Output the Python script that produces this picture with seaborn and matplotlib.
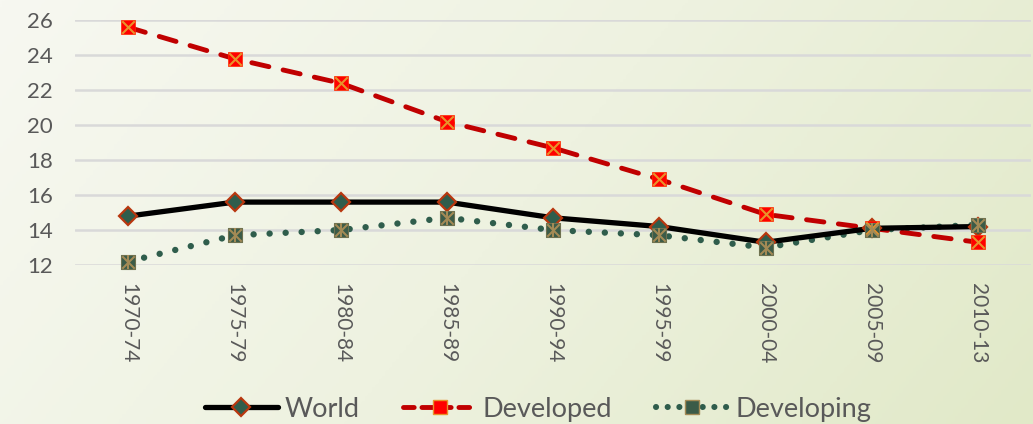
import numpy as np
import pandas as pd
import matplotlib
matplotlib.use("Agg")
import matplotlib.pyplot as plt
import seaborn as sns
from matplotlib.colors import LinearSegmentedColormap
from matplotlib.lines import Line2D

periods = ["1970-74", "1975-79", "1980-84", "1985-89", "1990-94",
           "1995-99", "2000-04", "2005-09", "2010-13"]
world = [14.8, 15.6, 15.6, 15.6, 14.7, 14.2, 13.3, 14.1, 14.2]
developed = [25.6, 23.8, 22.4, 20.2, 18.7, 16.9, 14.9, 14.1, 13.3]
developing = [12.2, 13.7, 14.0, 14.7, 14.0, 13.7, 13.0, 14.0, 14.3]
y_ticks = [12, 14, 16, 18, 20, 22, 24, 26]

sns.set_theme(style="white")
plt.rcParams["font.family"] = ["Lato", "DejaVu Sans"]
text_col = "#595959"

fig = plt.figure(figsize=(10.33, 4.24), dpi=100)

# soft diagonal background wash
bg = fig.add_axes([0, 0, 1, 1], zorder=-10)
gx, gy = np.meshgrid(np.linspace(0, 1, 300), np.linspace(0, 1, 150))
grad = 0.75 * gx + 0.25 * gy
cmap = LinearSegmentedColormap.from_list("wash", ["#f7f8f1", "#eef2e0", "#e1e9c8"])
bg.imshow(grad, cmap=cmap, aspect="auto", extent=[0, 1, 0, 1], origin="upper")
bg.axis("off")

ax = fig.add_axes([0.073, 0.375, 0.925, 0.577])
ax.patch.set_alpha(0)

df = pd.DataFrame({"period": periods, "x": np.arange(len(periods)),
                   "World": world, "Developed": developed, "Developing": developing})

# World: solid black with diamond markers
sns.lineplot(data=df, x="x", y="World", ax=ax, color="black", lw=3.8,
             marker="D", markersize=9.5, markerfacecolor="#2f5d4c",
             markeredgecolor="#b8370f", markeredgewidth=1.6, zorder=5, clip_on=False)

# Developed: red dashes with crossed squares
sns.lineplot(data=df, x="x", y="Developed", ax=ax, color="#c00000", lw=3.5,
             zorder=4, clip_on=False)
ax.lines[-1].set_dashes([3.6, 3.0])
ax.lines[-1].set_dash_capstyle("round")
sns.scatterplot(data=df, x="x", y="Developed", ax=ax, marker="s", s=110,
                color="#ff0000", edgecolor="#ff2a00", linewidth=0.5, zorder=6, clip_on=False)
sns.scatterplot(data=df, x="x", y="Developed", ax=ax, marker="x", s=80,
                color="#e8922a", linewidth=1.5, zorder=7, clip_on=False)

# Developing: dotted green with starred squares
sns.lineplot(data=df, x="x", y="Developing", ax=ax, color="#2f5d4c", lw=4.6,
             zorder=3, clip_on=False)
ax.lines[-1].set_dashes([0.01, 2.5])
ax.lines[-1].set_dash_capstyle("round")
sns.scatterplot(data=df, x="x", y="Developing", ax=ax, marker="s", s=110,
                color="#3b5b48", edgecolor="#6d7150", linewidth=0.8, zorder=6, clip_on=False)
sns.scatterplot(data=df, x="x", y="Developing", ax=ax, marker="x", s=80,
                color="#a38a55", linewidth=1.5, zorder=7, clip_on=False)
sns.scatterplot(data=df, x="x", y="Developing", ax=ax, marker="|", s=110,
                color="#a38a55", linewidth=1.5, zorder=7, clip_on=False)

ax.set_xlim(-0.5, len(periods) - 0.5)
ax.set_ylim(12, 26)
ax.set_yticks(y_ticks)
ax.set_yticklabels([str(t) for t in y_ticks], fontsize=16, color=text_col)
ax.set_xticks(np.arange(len(periods)))
ax.set_xticklabels(periods, rotation=270, fontsize=15, color=text_col, va="top", ha="center")
ax.tick_params(axis="both", length=0)
ax.tick_params(axis="x", pad=13)
ax.tick_params(axis="y", pad=16)
ax.set_xlabel("")
ax.set_ylabel("")
ax.grid(axis="y", color="#d9d9d9", lw=1.8)
ax.set_axisbelow(True)
for s in ax.spines.values():
    s.set_visible(False)

legend_handles = [
    Line2D([0], [0], color="black", lw=3.8, marker="D", markersize=9.5,
           markerfacecolor="#2f5d4c", markeredgecolor="#b8370f", markeredgewidth=1.6),
    Line2D([0], [0], color="#c00000", lw=3.5, dashes=[2.2, 1.6], dash_capstyle="round",
           marker="s", markersize=10, markerfacecolor="#ff0000", markeredgecolor="#e8922a"),
    Line2D([0], [0], color="#2f5d4c", lw=4.4, dashes=[0.01, 1.9], dash_capstyle="round",
           marker="s", markersize=10, markerfacecolor="#3b5b48", markeredgecolor="#a38a55"),
]
leg = fig.legend(legend_handles, ["World", "Developed", "Developing"], loc="center",
                 bbox_to_anchor=(0.521, 0.035), ncol=3, frameon=False, fontsize=19.5,
                 handlelength=2.7, columnspacing=1.6, handletextpad=0.25)
for t in leg.get_texts():
    t.set_color(text_col)

fig.savefig("out.png", dpi=100)
